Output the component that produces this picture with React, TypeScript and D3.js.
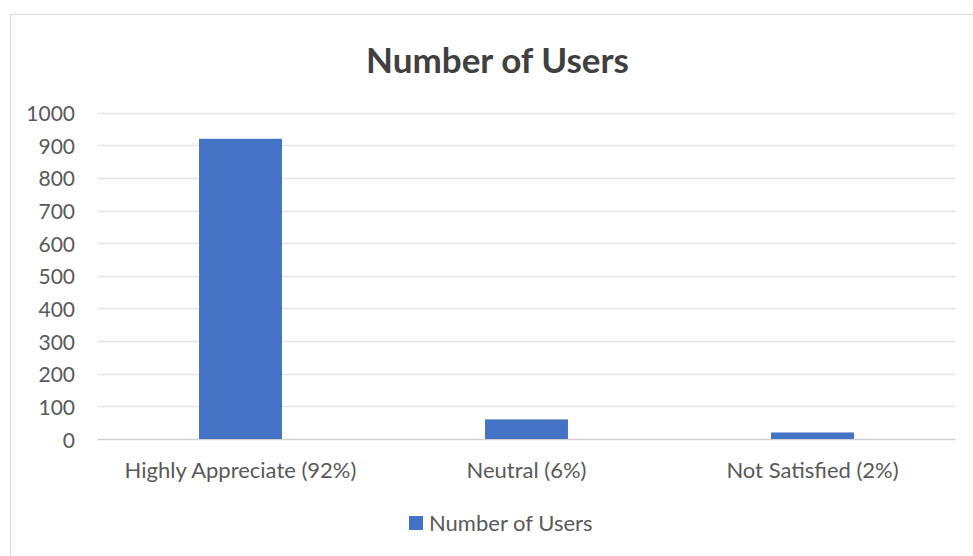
import React from "react";
import * as d3 from "d3";

const categories = ["Highly Appreciate (92%)", "Neutral (6%)", "Not Satisfied (2%)"];
const values = [920, 60, 20];
const yTicks = [0, 100, 200, 300, 400, 500, 600, 700, 800, 900, 1000];
const seriesName = "Number of Users";
const title = "Number of Users";

const W = 973;
const H = 556;
const FONT = "Lato, 'Open Sans', sans-serif";

export default function App() {
  const x = d3
    .scaleBand<string>()
    .domain(categories)
    .range([97.5, 955.5])
    .paddingInner(0.71)
    .paddingOuter(0.355);
  const y = d3.scaleLinear().domain([0, 1000]).range([439, 112.7]);

  return (
    <svg
      width={W}
      height={H}
      style={{ position: "absolute", left: 0, top: 0, background: "#fff" }}
    >
      <rect x={10.5} y={14.5} width={980} height={560} fill="#fff" stroke="#d9d9d9" strokeWidth={1} />
      <text
        x={497.5}
        y={58.5}
        textAnchor="middle"
        dominantBaseline="central"
        fontFamily={FONT}
        fontWeight="bold"
        fontSize={35}
        fill="#404040"
      >
        {title}
      </text>
      {yTicks.map((t) => (
        <g key={t}>
          <line
            x1={97.5}
            x2={955.5}
            y1={Math.round(y(t)) + 0.5}
            y2={Math.round(y(t)) + 0.5}
            stroke={t === 0 ? "#d0d0d0" : "#e4e4e4"}
            strokeWidth={1.3}
          />
          <text
            x={75}
            y={y(t)}
            textAnchor="end"
            dominantBaseline="central"
            fontFamily={FONT}
            fontSize={21}
            fill="#595959"
          >
            {t}
          </text>
        </g>
      ))}
      {categories.map((c, i) => (
        <g key={c}>
          <rect
            x={x(c)}
            y={y(values[i])}
            width={x.bandwidth()}
            height={y(0) - y(values[i])}
            fill="#4472C4"
          />
          <text
            x={(x(c) as number) + x.bandwidth() / 2}
            y={469.5}
            textAnchor="middle"
            dominantBaseline="central"
            fontFamily={FONT}
            fontSize={22}
            fill="#595959"
          >
            {c}
          </text>
        </g>
      ))}
      <rect x={409} y={516} width={14} height={14} fill="#4472C4" />
      <text
        x={429}
        y={522.5}
        dominantBaseline="central"
        fontFamily={FONT}
        fontSize={22}
        fill="#595959"
      >
        {seriesName}
      </text>
    </svg>
  );
}
